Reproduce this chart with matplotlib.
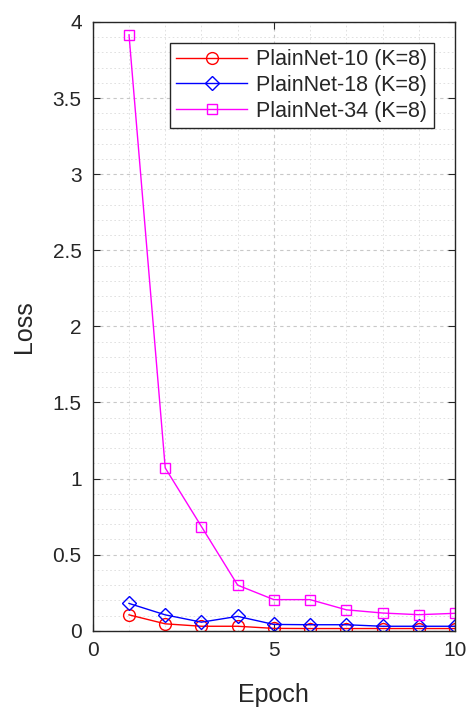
import matplotlib
matplotlib.use("Agg")
import matplotlib.pyplot as plt
from matplotlib.ticker import MultipleLocator, FormatStrFormatter

epochs = [1, 2, 3, 4, 5, 6, 7, 8, 9, 10]
loss_p10 = [0.105, 0.046, 0.03, 0.03, 0.016, 0.015, 0.015, 0.015, 0.015, 0.015]
loss_p18 = [0.18, 0.105, 0.057, 0.095, 0.042, 0.04, 0.04, 0.03, 0.03, 0.03]
loss_p34 = [3.915, 1.07, 0.685, 0.30, 0.205, 0.205, 0.138, 0.117, 0.106, 0.115]
labels = ["PlainNet-10 (K=8)", "PlainNet-18 (K=8)", "PlainNet-34 (K=8)"]

plt.rcParams['font.family'] = ['Liberation Sans', 'DejaVu Sans']
txt = '#262626'

fig = plt.figure(figsize=(4.71, 7.08), dpi=100)
ax = fig.add_axes([0.197, 0.109, 0.769, 0.860])

ax.plot(epochs, loss_p10, color='red', marker='o', ms=8.5, mfc='none', mew=1.0, lw=1.0, label=labels[0])
ax.plot(epochs, loss_p18, color='blue', marker='D', ms=7.5, mfc='none', mew=1.0, lw=1.0, label=labels[1])
ax.plot(epochs, loss_p34, color='magenta', marker='s', ms=7.5, mfc='none', mew=1.0, lw=1.0, label=labels[2])

ax.set_xlim(0, 10)
ax.set_ylim(0, 4)
ax.xaxis.set_major_locator(MultipleLocator(5))
ax.xaxis.set_minor_locator(MultipleLocator(1))
ax.yaxis.set_major_locator(MultipleLocator(0.5))
ax.yaxis.set_minor_locator(MultipleLocator(0.1))
ax.yaxis.set_major_formatter(FormatStrFormatter('%g'))

ax.grid(which='major', color='#c8c8c8', linestyle=(0, (3, 3)), lw=0.8)
ax.grid(which='minor', color='#dcdcdc', linestyle=(0, (2, 3)), lw=0.6)
ax.set_axisbelow(True)

ax.tick_params(which='both', direction='in', top=True, right=True, colors=txt, labelsize=15)
ax.tick_params(axis='y', pad=8)
ax.tick_params(axis='x', pad=7)
ax.tick_params(which='major', length=5)
ax.tick_params(which='minor', length=0)
for s in ax.spines.values():
    s.set_color(txt)
    s.set_linewidth(1.0)

ax.set_xlabel('Epoch', fontsize=18, color=txt)
ax.set_ylabel('Loss', fontsize=18, color=txt)
ax.xaxis.set_label_coords(0.5, -0.086)
ax.yaxis.set_label_coords(-0.158, 0.5)

leg = ax.legend(loc='upper right', bbox_to_anchor=(0.941, 0.966), fontsize=15.5, fancybox=False,
                framealpha=1, edgecolor=txt, handlelength=3.3, borderpad=0.3, labelspacing=0.22,
                handletextpad=0.4, borderaxespad=0)
leg.get_frame().set_linewidth(1.0)
for t in leg.get_texts():
    t.set_color(txt)

fig.savefig('out.png', dpi=100)
